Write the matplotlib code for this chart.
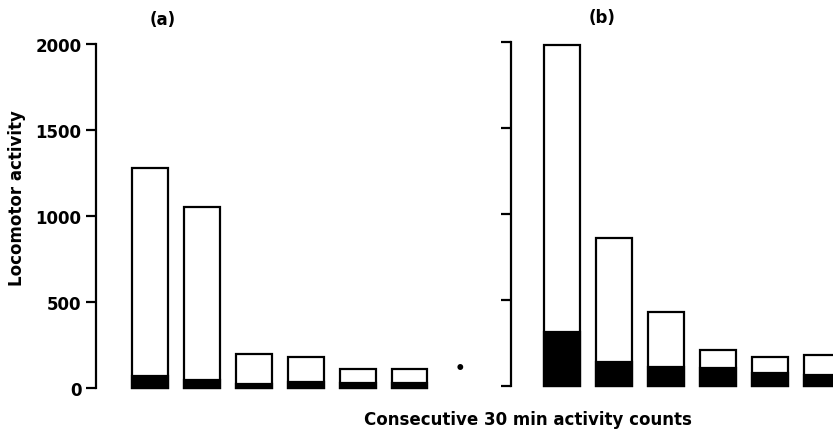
import matplotlib
matplotlib.use("Agg")
import matplotlib.pyplot as plt
import numpy as np

# Data
periods = [1, 2, 3, 4, 5, 6]
total_a = [1280, 1050, 195, 180, 110, 110]
dark_a = [70, 45, 25, 35, 30, 30]
total_b = [1980, 860, 430, 210, 170, 180]
dark_b = [315, 140, 110, 105, 75, 65]
yticks = [0, 500, 1000, 1500, 2000]

plt.rcParams['font.family'] = ['DejaVu Sans']
plt.rcParams['font.weight'] = 'bold'

fig = plt.figure(figsize=(8.33, 4.35), dpi=100)
ax_a = fig.add_axes([0.1152, 0.1057, 0.461, 0.7908])
ax_b = fig.add_axes([0.6134, 0.1103, 0.3866, 0.7908])

x = np.arange(len(periods))
lw = 1.6
for ax, tot, dk, xl in [(ax_a, total_a, dark_a, (-1.04, 6.35)),
                        (ax_b, total_b, dark_b, (-0.98, 5.21))]:
    ax.bar(x, tot, width=0.68, facecolor='white', edgecolor='black',
           linewidth=lw, clip_on=False, zorder=2)
    ax.bar(x, dk, width=0.68, facecolor='black', edgecolor='black',
           linewidth=lw, clip_on=False, zorder=3)
    ax.set_xlim(*xl)
    ax.set_ylim(0, 2000)
    for s in ['top', 'right', 'bottom']:
        ax.spines[s].set_visible(False)
    ax.spines['left'].set_linewidth(1.6)
    ax.set_xticks([])
    ax.set_yticks(yticks)
    ax.tick_params(axis='y', direction='out', length=7.5, width=1.6,
                   labelsize=12, pad=3)

ax_a.set_yticklabels([str(v) for v in yticks], fontweight='bold')
ax_b.set_yticklabels([])

ax_a.set_ylabel('Locomotor activity', fontsize=12, fontweight='bold')
ax_a.yaxis.set_label_coords(-0.183, 0.555)

fig.text(163 / 833, 1 - 20 / 435, '(a)', ha='center', va='center',
         fontsize=12, fontweight='bold')
fig.text(602 / 833, 1 - 18 / 435, '(b)', ha='center', va='center',
         fontsize=12, fontweight='bold')
fig.text(528 / 833, 1 - 420 / 435, 'Consecutive 30 min activity counts',
         ha='center', va='center', fontsize=12, fontweight='bold')
fig.text(460 / 833, 1 - 369 / 435, '•', ha='center', va='center', fontsize=12)

fig.savefig('out.png', dpi=100)
